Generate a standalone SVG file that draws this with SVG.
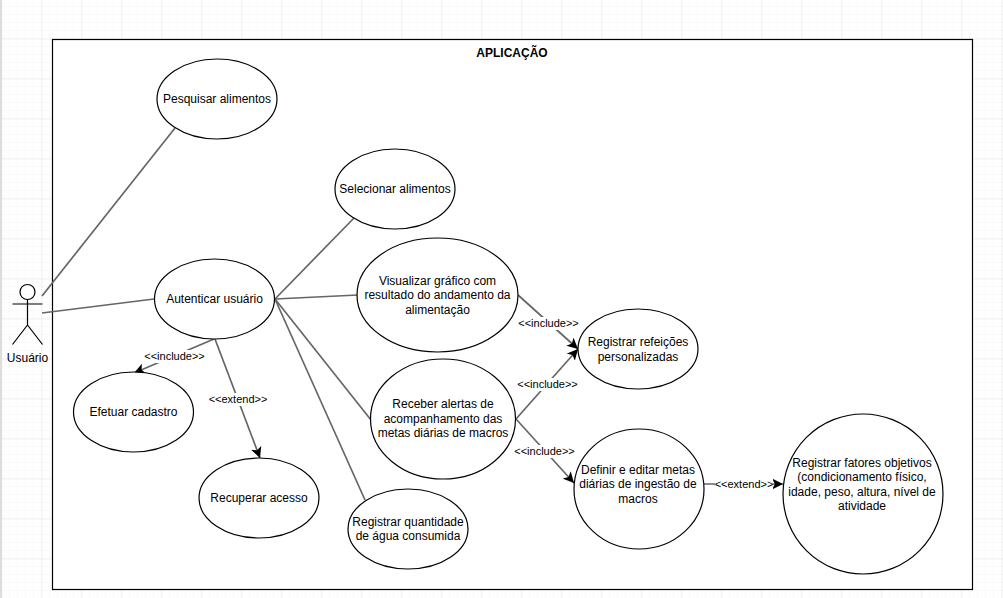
<svg xmlns="http://www.w3.org/2000/svg" width="1003" height="598" viewBox="0 0 1003 598">
<style>
text{font-family:"Liberation Sans",Arial,sans-serif;font-size:12px;fill:#000;text-anchor:middle}
.lbl{font-size:11px}
.uc{fill:#fff;stroke:#000;stroke-width:1.2}
.c{fill:none;stroke:#666;stroke-width:1.7}
.a{marker-end:url(#arr)}
.lb{fill:#fff;stroke:none}
</style>
<defs>
<pattern id="minor" width="8" height="8" patternUnits="userSpaceOnUse" x="2" y="-1"><path d="M8 0V8M0 8H8" fill="none" stroke="#f3f3f3" stroke-width="1"/></pattern>
<pattern id="major" width="40" height="40" patternUnits="userSpaceOnUse" x="2.5" y="-0.5"><path d="M40 0V40M0 40H40" fill="none" stroke="#e6e6e6" stroke-width="1"/></pattern>
<marker id="arr" markerUnits="userSpaceOnUse" markerWidth="12" markerHeight="12" refX="10" refY="5" viewBox="0 0 11 10" orient="auto"><path d="M0 0L10 5L0 10L2.5 5Z" fill="#000"/></marker>
</defs>
<g id="background">
<rect width="1003" height="598" fill="#fff"/>
<rect width="1003" height="598" fill="url(#minor)"/>
<rect width="1003" height="598" fill="url(#major)"/>
<rect x="0" y="0" width="2" height="598" fill="#ddd"/>
</g>
<g id="system"><rect x="52.5" y="39.5" width="920" height="550" fill="#fff" stroke="#000" stroke-width="1.2"/>
<text x="512" y="57" font-weight="bold">APLICAÇÃO</text></g>
<g id="connectors">
<path class="c" d="M42 296L175 128"/>
<path class="c" d="M42 313L154 299"/>
<path class="c" d="M275 299L354 218"/>
<path class="c" d="M275 299L358 295"/>
<path class="c" d="M275 299L371 420"/>
<path class="c" d="M275 299L365 500"/>
<path class="c a" d="M214 339L134 373"/>
<path class="c a" d="M215 339L260 458"/>
<path class="c a" d="M518 295L578 349"/>
<path class="c a" d="M516 419L578 349"/>
<path class="c a" d="M516 419L574 483"/>
<path class="c a" d="M704 484L783 484"/>
<rect class="lb" x="145" y="350" width="60" height="13"/>
<text class="lbl" x="174.500" y="360">&lt;&lt;include&gt;&gt;</text>
<rect class="lb" x="208" y="393" width="60" height="13"/>
<text class="lbl" x="238" y="403">&lt;&lt;extend&gt;&gt;</text>
<rect class="lb" x="518" y="317" width="60" height="13"/>
<text class="lbl" x="548.500" y="327">&lt;&lt;include&gt;&gt;</text>
<rect class="lb" x="517" y="378" width="60" height="13"/>
<text class="lbl" x="547.500" y="388">&lt;&lt;include&gt;&gt;</text>
<rect class="lb" x="515" y="445" width="60" height="13"/>
<text class="lbl" x="544.500" y="455">&lt;&lt;include&gt;&gt;</text>
<rect class="lb" x="715" y="478" width="58" height="13"/>
<text class="lbl" x="744" y="488">&lt;&lt;extend&gt;&gt;</text>
</g>
<g id="actor" fill="none" stroke="#000" stroke-width="1.2">
<circle cx="27.500" cy="292" r="7.500"/>
<path d="M27.500 299.500V325M12.500 304H42.500M27.500 325L12.500 344.500M27.500 325L42.500 344.500"/>
<text x="27.500" y="362" stroke="none">Usuário</text>
</g>
<g id="pesquisar"><ellipse class="uc" cx="217" cy="99" rx="60" ry="40"/><text x="217" y="103">Pesquisar alimentos</text></g>
<g id="selecionar"><ellipse class="uc" cx="395" cy="189" rx="60" ry="40"/><text x="395" y="193">Selecionar alimentos</text></g>
<g id="autenticar"><ellipse class="uc" cx="214.500" cy="299" rx="60" ry="40"/><text x="214.500" y="303">Autenticar usuário</text></g>
<g id="efetuar"><ellipse class="uc" cx="133.500" cy="412" rx="60" ry="40"/><text x="133.500" y="416">Efetuar cadastro</text></g>
<g id="recuperar"><ellipse class="uc" cx="259" cy="498" rx="60" ry="40"/><text x="259" y="502">Recuperar acesso</text></g>
<g id="visualizar"><ellipse class="uc" cx="437.500" cy="295" rx="80.500" ry="57"/><text x="437.500" y="285">Visualizar gráfico com</text><text x="437.500" y="299">resultado do andamento da</text><text x="437.500" y="314">alimentação</text></g>
<g id="receber"><ellipse class="uc" cx="443" cy="419" rx="72.500" ry="60"/><text x="443" y="408">Receber alertas de</text><text x="443" y="423">acompanhamento das</text><text x="443" y="437">metas diárias de macros</text></g>
<g id="agua"><ellipse class="uc" cx="408" cy="529" rx="60" ry="40"/><text x="408" y="526">Registrar quantidade</text><text x="408" y="540">de água consumida</text></g>
<g id="refeicoes"><ellipse class="uc" cx="638" cy="349" rx="60" ry="40"/><text x="638" y="346">Registrar refeições</text><text x="638" y="361">personalizadas</text></g>
<g id="definir"><ellipse class="uc" cx="639" cy="489" rx="65" ry="60"/><text x="638" y="474">Definir e editar metas</text><text x="638" y="488">diárias de ingestão de</text><text x="638" y="503">macros</text></g>
<g id="fatores"><ellipse class="uc" cx="863" cy="494" rx="80" ry="80"/><text x="862" y="467">Registrar fatores objetivos</text><text x="862" y="481">(condicionamento físico,</text><text x="862" y="496">idade, peso, altura, nível de</text><text x="862" y="510">atividade</text></g>
</svg>
